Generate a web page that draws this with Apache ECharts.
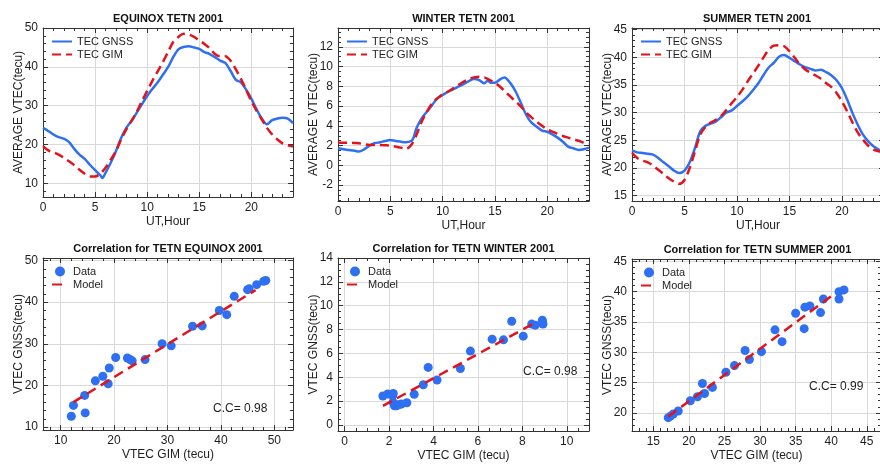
<!DOCTYPE html>
<html>
<head>
<meta charset="utf-8">
<title>TETN 2001 VTEC</title>
<script src="https://cdn.jsdelivr.net/npm/echarts@6/dist/echarts.min.js"></script>
<style>html,body{margin:0;padding:0;background:#fff;}</style>
</head>
<body>
<div id="main" style="width:880px;height:464px;"></div>
<script>
// ---- data ----
var halfHours = [0,0.5,1,1.5,2,2.5,3,3.5,4,4.5,5,5.5,6,6.5,7,7.5,8,8.5,9,9.5,10,10.5,11,11.5,12,
                 12.5,13,13.5,14,14.5,15,15.5,16,16.5,17,17.5,18,18.5,19,19.5,20,20.5,21,21.5,22,22.5,23,23.5,24];

// equinox
var eqGnssHours = [0,0.5,1,1.5,2,2.5,3,3.5,4,4.5,5,5.5,5.7,6,6.5,7,7.5,8,8.5,9,9.5,10,10.5,11,11.5,12,
                   12.5,13,13.5,14,14.5,15,15.5,16,16.5,17,17.5,18,18.5,19,19.5,20,20.5,21,21.5,22,22.5,23,23.5,24];
var eqGnss = [24.3,23.5,22.6,21.9,21.5,20.6,18.9,17.4,16.3,14.8,13.4,12.1,11.4,12.7,15.3,18.3,21.7,24.3,26.1,28.2,
              30.4,32.5,34.3,36.0,37.9,39.9,42.5,44.5,45.1,45.3,45.0,44.6,43.8,43.3,42.5,41.6,41.0,39.0,36.7,36.0,
              34.1,31.8,29.1,26.7,25.2,26.3,26.7,26.9,26.7,25.5];
var eqGim = [19.6,18.5,18.0,17.4,16.6,15.7,14.7,13.5,12.5,11.8,11.8,12.5,14.0,16.1,18.3,21.3,23.9,26.1,28.4,31.2,
             33.8,36.4,38.8,41.2,43.8,46.4,47.7,48.5,48.3,47.7,46.8,45.9,44.8,43.3,42.7,42.7,41.6,39.4,36.9,34.1,
             31.2,28.7,26.5,24.3,22.6,21.3,20.3,19.8,19.5];

// winter
var wiGnssHours = [0,0.5,1,1.5,2,2.5,3,3.5,4,4.5,5,5.5,6,6.5,7,7.2,7.5,8,8.5,9,9.5,10,10.5,11,11.5,12,12.5,13,13.5,14,
                   14.3,14.6,15,15.5,15.9,16.5,17,17.5,18,18.5,19,19.5,20,20.5,21,21.5,22,22.5,23,23.5,24];
var wiGnss = [1.73,1.63,1.56,1.5,1.4,1.63,2.0,2.24,2.34,2.47,2.57,2.47,2.4,2.34,2.47,2.74,3.75,4.76,5.43,6.1,
              6.78,7.12,7.45,7.69,7.96,8.23,8.53,8.73,8.63,8.3,8.57,8.36,8.36,8.7,8.9,8.3,7.45,6.28,5.1,4.32,
              3.92,3.52,3.41,3.14,2.81,2.4,1.9,1.73,1.56,1.63,1.8];
var wiGim = [2.3,2.3,2.3,2.27,2.24,2.15,2.07,2.07,2.07,2.04,2.0,1.9,1.8,1.66,2.07,3.08,4.42,5.43,6.28,6.78,
             7.19,7.45,7.79,8.13,8.46,8.73,8.9,8.97,8.9,8.63,8.36,7.96,7.45,6.95,6.44,5.94,5.33,4.86,4.42,4.02,
             3.65,3.41,3.18,2.98,2.81,2.64,2.5,2.3,2.2];

// summer
var suGnss = [23.15,22.8,22.7,22.55,22.4,21.8,21.0,20.3,19.5,19.05,19.5,21.0,23.6,26.6,27.6,28.0,28.4,29.2,30.0,30.4,
              31.2,32.0,32.9,34.0,35.2,36.7,38.1,39.0,40.1,40.4,39.9,39.3,38.7,38.2,37.9,37.6,37.75,37.3,36.7,35.8,
              34.4,32.3,29.9,27.8,26.0,24.8,23.9,23.3,23.0];
var suGim = [22.7,21.8,21.3,21.0,20.4,19.65,18.9,18.1,17.5,17.1,17.8,20.0,23.0,26.0,27.4,28.2,28.7,29.4,30.5,31.7,
             32.8,34.1,35.6,37.0,38.4,39.9,41.3,42.1,42.2,42.0,41.1,39.9,38.7,37.8,37.2,36.7,36.1,35.3,34.6,33.5,
             32.0,30.2,28.2,26.4,25.1,24.0,23.3,23.0,22.8];

// correlation scatter (x = GIM, y = GNSS)
var corrEqGim  = [12.0,12.4,14.5,14.6,16.5,17.9,18.9,19.1,20.3,22.5,23.0,23.4,25.8,29.0,30.7,34.7,36.5,39.7,41.1,42.5,45.0,45.3,46.7,48.0,48.4];
var corrEqGnss = [12.6,15.2,17.6,13.4,21.1,22.2,20.4,24.2,26.7,26.6,26.2,25.9,26.2,30.0,29.5,34.2,34.3,38.0,37.0,41.4,43.0,43.2,44.2,45.0,45.2];
var modelEqX = [12.4, 46.5], modelEqY = [16.0, 42.9];

var corrWiGim  = [1.72,1.94,2.16,2.19,2.18,2.24,2.33,2.43,2.55,2.8,3.13,3.54,3.76,4.16,5.21,5.66,6.64,7.15,7.52,8.04,8.42,8.58,8.9,8.93,8.9];
var corrWiGnss = [2.43,2.6,2.48,2.65,1.92,1.62,1.62,1.7,1.76,1.87,2.57,3.38,4.83,3.77,4.74,6.2,7.2,7.14,8.7,7.45,8.46,8.37,8.79,8.46,8.65];
var modelWiX = [1.72, 8.55], modelWiY = [1.6, 8.55];

var corrSuGim  = [17.1,17.4,17.8,18.5,20.2,21.2,21.9,22.2,23.3,25.2,26.4,27.9,28.5,30.2,32.1,33.1,35.0,36.2,36.3,37.0,38.5,38.9,41.1,41.1,41.8];
var corrSuGnss = [19.2,19.45,19.8,20.3,22.0,22.65,24.85,23.2,24.2,26.7,27.8,30.3,28.8,30.1,33.7,31.75,36.45,33.9,37.45,37.65,36.55,38.8,38.8,40.0,40.3];
var modelSuX = [17.1, 40.4], modelSuY = [19.4, 39.6];

var ccValues = ['0.98', '0.98', '0.99'];

// ---- chart ----
var chart = echarts.init(document.getElementById('main'));
var FONT = '"Liberation Sans", Arial, sans-serif';
var BLUE = '#2f6ff2', RED = '#e3131c', INK = '#1e1e1e';

function pairs(xs, ys) {
    return xs.map(function (x, i) { return [x, ys[i]]; });
}
function tickFmt(step) {
    return function (v) {
        var k = v / step;
        return Math.abs(k - Math.round(k)) < 1e-6 ? String(Math.round(v * 1000) / 1000) : '';
    };
}

var grids = [], xAxes = [], yAxes = [], series = [], titles = [], legends = [];

function axis(gi, pos, r, step, minor, name, gap, main) {
    var a = {
        type: 'value', gridIndex: gi, position: pos,
        min: r[0], max: r[1], minInterval: step, maxInterval: step,
        axisLine: { show: true, onZero: false, lineStyle: { color: '#333', width: 1 } },
        axisTick: { show: true, inside: true, length: 5, lineStyle: { color: '#333' } },
        minorTick: { show: true, splitNumber: minor, length: 3, lineStyle: { color: '#333' } },
        axisLabel: { show: main, margin: 5, fontSize: 12, color: INK, fontFamily: FONT, formatter: tickFmt(step) },
        splitLine: { show: main, lineStyle: { color: '#d9d9d9', width: 1 } }
    };
    if (main) {
        a.name = name;
        a.nameLocation = 'middle';
        a.nameGap = gap;
        a.nameMoveOverlap = false;
        a.nameTextStyle = { fontSize: 12, color: INK, fontFamily: FONT };
    }
    return a;
}

function addPanel(p) {
    var gi = grids.length;
    grids.push({ left: p.box[0], top: p.box[1], width: p.box[2], height: p.box[3], outerBoundsMode: 'none' });
    var xi = xAxes.length, yi = yAxes.length;
    xAxes.push(axis(gi, 'bottom', p.x, p.xStep, p.xMinor, p.xName, 19, true));
    xAxes.push(axis(gi, 'top', p.x, p.xStep, p.xMinor, '', 0, false));
    yAxes.push(axis(gi, 'left', p.y, p.yStep, p.yMinor, p.yName, 18, true));
    yAxes.push(axis(gi, 'right', p.y, p.yStep, p.yMinor, '', 0, false));
    p.series.forEach(function (s) {
        s.xAxisIndex = xi;
        s.yAxisIndex = yi;
        series.push(s);
    });
    titles.push({
        text: p.title, left: p.box[0] + p.box[2] / 2 - (p.titleShift || 0), top: p.box[1] - 15,
        textAlign: 'center', padding: 0,
        textStyle: { fontSize: 11, fontWeight: 'bold', color: '#111', fontFamily: FONT }
    });
    legends.push({
        // hide the marker a line series puts in the middle of its legend icon
        data: p.legend.map(function (n) {
            return p.lineItems.indexOf(n) >= 0 ? { name: n, itemStyle: { opacity: 0 } } : { name: n };
        }),
        orient: 'vertical', left: p.box[0] + 8, top: p.box[1] + 8,
        itemWidth: p.legendW, itemHeight: 10, itemGap: 2, padding: 0,
        textStyle: { fontSize: 11, color: INK, fontFamily: FONT }
    });
}

function tecSeries(gx, gy, mx, my) {
    return [
        { type: 'line', name: 'TEC GNSS', data: pairs(gx, gy), symbol: 'none', smooth: 0.3,
          lineStyle: { color: BLUE, width: 2.5 }, itemStyle: { color: BLUE } },
        { type: 'line', name: 'TEC GIM', data: pairs(mx, my), symbol: 'none', smooth: 0.3,
          lineStyle: { color: RED, width: 2.5, type: [9, 5] }, itemStyle: { color: RED } }
    ];
}
function corrSeries(sx, sy, lx, ly) {
    return [
        { type: 'scatter', name: 'Data', data: pairs(sx, sy), symbol: 'circle', symbolSize: 9,
          itemStyle: { color: BLUE, opacity: 1 } },
        { type: 'line', name: 'Model', data: pairs(lx, ly), symbol: 'none', z: 3,
          lineStyle: { color: RED, width: 2.5, type: [10, 6] }, itemStyle: { color: RED } }
    ];
}

var TEC_Y = 'AVERAGE VTEC(tecu)', HOUR = 'UT,Hour';
var lineLegend = ['TEC GNSS', 'TEC GIM'], corrLegend = ['Data', 'Model'];

addPanel({ title: 'EQUINOX TETN 2001', box: [43, 28, 250, 169],
    x: [0, 24], xStep: 5, xMinor: 5, xName: HOUR,
    y: [6.5, 50], yStep: 10, yMinor: 5, yName: TEC_Y,
    legend: lineLegend, lineItems: lineLegend, legendW: 20,
    series: tecSeries(eqGnssHours, eqGnss, halfHours, eqGim) });
addPanel({ title: 'WINTER TETN 2001', box: [338, 28, 251, 173],
    x: [0, 24], xStep: 5, xMinor: 5, xName: HOUR,
    y: [-3.6, 13.9], yStep: 2, yMinor: 4, yName: TEC_Y,
    legend: lineLegend, lineItems: lineLegend, legendW: 20,
    series: tecSeries(wiGnssHours, wiGnss, halfHours, wiGim) });
addPanel({ title: 'SUMMER TETN 2001', box: [632, 28, 252, 173], titleShift: 1,
    x: [0, 24], xStep: 5, xMinor: 5, xName: HOUR,
    y: [14, 45.3], yStep: 5, yMinor: 5, yName: TEC_Y,
    legend: lineLegend, lineItems: lineLegend, legendW: 20,
    series: tecSeries(halfHours, suGnss, halfHours, suGim) });

addPanel({ title: 'Correlation for TETN EQUINOX 2001', box: [43, 258, 250, 172],
    x: [6.7, 53.5], xStep: 10, xMinor: 5, xName: 'VTEC GIM (tecu)',
    y: [9.3, 50.6], yStep: 10, yMinor: 5, yName: 'VTEC GNSS(tecu)',
    legend: corrLegend, lineItems: ['Model'], legendW: 16,
    series: corrSeries(corrEqGim, corrEqGnss, modelEqX, modelEqY) });
addPanel({ title: 'Correlation for TETN WINTER 2001', box: [338, 258, 251, 173],
    x: [-0.3, 11], xStep: 2, xMinor: 4, xName: 'VTEC GIM (tecu)',
    y: [-0.5, 14], yStep: 2, yMinor: 4, yName: 'VTEC GNSS(tecu)',
    legend: corrLegend, lineItems: ['Model'], legendW: 16,
    series: corrSeries(corrWiGim, corrWiGnss, modelWiX, modelWiY) });
addPanel({ title: 'Correlation for TETN SUMMER 2001', box: [632, 259, 249, 172], titleShift: -1,
    x: [12, 47], xStep: 5, xMinor: 5, xName: 'VTEC GIM (tecu)',
    y: [17, 45.4], yStep: 5, yMinor: 5, yName: 'VTEC GNSS(tecu)',
    legend: corrLegend, lineItems: ['Model'], legendW: 16,
    series: corrSeries(corrSuGim, corrSuGnss, modelSuX, modelSuY) });

// correlation coefficient notes
[[213, 403], [523, 366], [809, 381]].forEach(function (pos, i) {
    titles.push({
        text: 'C.C= ' + ccValues[i], left: pos[0], top: pos[1], padding: 0,
        textStyle: { fontSize: 12, fontWeight: 'normal', color: INK, fontFamily: FONT }
    });
});

chart.setOption({
    backgroundColor: '#fff',
    animation: false,
    title: titles,
    legend: legends,
    grid: grids,
    xAxis: xAxes,
    yAxis: yAxes,
    series: series
});
</script>
</body>
</html>
